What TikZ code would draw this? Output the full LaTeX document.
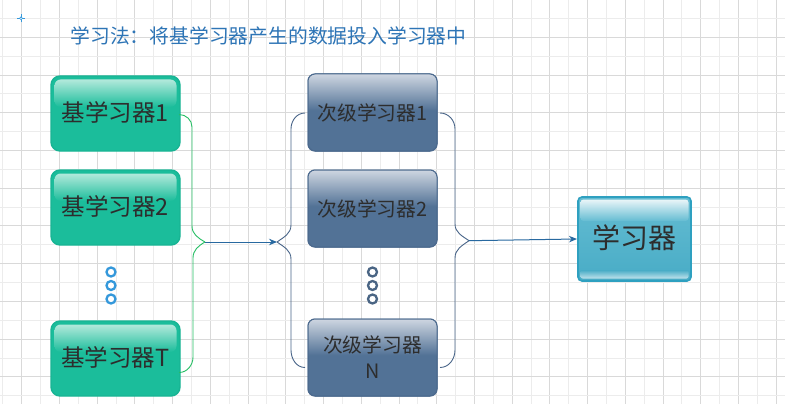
\documentclass[tikz,border=0pt]{standalone}
\usepackage{fontspec}
\setmainfont{Noto Sans CJK SC}
\usetikzlibrary{arrows.meta,calc}
\definecolor{gridminor}{RGB}{236,236,236}
\definecolor{gridmajor}{RGB}{217,217,217}
\definecolor{gbase}{RGB}{27,189,155}
\definecolor{gedge}{RGB}{24,180,148}
\definecolor{glight}{RGB}{178,233,219}
\definecolor{sbase}{RGB}{82,114,150}
\definecolor{sedge}{RGB}{76,106,142}
\definecolor{stop}{RGB}{206,214,225}
\definecolor{lbase}{RGB}{72,172,198}
\definecolor{ltop}{RGB}{100,188,210}
\definecolor{ledge}{RGB}{46,160,192}
\definecolor{txt}{RGB}{45,45,45}
\definecolor{titlec}{RGB}{46,117,182}
\definecolor{greenline}{RGB}{38,190,100}
\definecolor{arrowblue}{RGB}{40,105,160}
\definecolor{bracec}{RGB}{72,100,136}
\definecolor{dotblue}{RGB}{52,152,219}
\definecolor{dotgray}{RGB}{74,101,132}
\tikzset{
  basebox/.style={draw=gedge, line width=1.4pt, fill=gbase, rounded corners=9pt,
    anchor=north west, minimum width=129pt, minimum height=75pt, inner sep=0pt, outer sep=0pt},
  subbox/.style={draw=sedge, line width=1pt, fill=sbase, rounded corners=7pt,
    anchor=north west, minimum width=129pt, minimum height=77pt, inner sep=0pt, outer sep=0pt},
  learnbox/.style={draw=ledge, line width=1.6pt, top color=ltop, bottom color=lbase, rounded corners=4pt,
    anchor=north west, minimum width=113pt, minimum height=84pt, inner sep=0pt, outer sep=0pt},
  btext/.style={text=txt, font=\fontsize{23.5}{24}\selectfont, inner sep=0pt},
  stext/.style={text=txt, font=\fontsize{19.8}{26}\selectfont, inner sep=0pt, align=center},
  ltext/.style={text=txt, font=\fontsize{28}{28}\selectfont, inner sep=0pt},
  dotleft/.style={circle, draw=dotblue, line width=2.3pt, fill=white, minimum size=9pt, inner sep=0pt},
  dotright/.style={circle, draw=dotgray, line width=2.3pt, fill=white, minimum size=9pt, inner sep=0pt},
  gline/.style={draw=greenline, line width=0.9pt},
  bline/.style={draw=bracec, line width=0.9pt},
  arr/.style={draw=arrowblue, line width=1pt, -{Stealth[length=8pt,width=6.5pt]}},
  titlestyle/.style={text=titlec, font=\fontsize{19.8}{20}\selectfont, inner sep=0pt},
}
\newcommand\mkglossg[1]{%
  \shade[top color=glight, bottom color=gbase, rounded corners=6pt]
    ([shift={(3.5,-3.5)}]#1.north west) rectangle ([shift={(-3.5,-31)}]#1.north east);}
\newcommand\mkglosss[1]{%
  \begin{scope}
    \clip[rounded corners=7pt] (#1.north west) rectangle (#1.south east);
    \shade[top color=stop, bottom color=sbase]
      (#1.north west) rectangle ($(#1.north east)!0.47!(#1.south east)$);
  \end{scope}
  \draw[sedge, line width=1pt, rounded corners=7pt] (#1.north west) rectangle (#1.south east);}
\begin{document}
\begin{tikzpicture}[x=1pt,y=1pt]
\useasboundingbox (0,0) rectangle (785,-404);
\fill[white] (0,0) rectangle (785,-404);
% grid
\foreach \i in {0,...,41} {
  \pgfmathsetmacro{\gx}{2.835+18.865*\i}
  \pgfmathparse{int(mod(\i,2))}
  \ifnum\pgfmathresult=1
    \draw[gridmajor, line width=1pt] (\gx,0) -- (\gx,-404);
  \else
    \draw[gridminor, line width=1pt] (\gx,0) -- (\gx,-404);
  \fi
}
\foreach \j in {1,...,21} {
  \pgfmathsetmacro{\gy}{-0.43+18.865*\j}
  \pgfmathparse{int(mod(\j,2))}
  \ifnum\pgfmathresult=0
    \draw[gridmajor, line width=1pt] (0,-\gy) -- (785,-\gy);
  \else
    \draw[gridminor, line width=1pt] (0,-\gy) -- (785,-\gy);
  \fi
}
% crosshair
\coordinate (cross) at (21,-18.3);
\draw[dotblue, line width=0.6pt] ($(cross)+(-4,0)$) -- ($(cross)+(4,0)$)
  ($(cross)+(0,-4)$) -- ($(cross)+(0,4)$);
\draw[dotblue, line width=0.6pt, fill=white] (cross) circle (1.4);
% title
\node[titlestyle] (title) at (268.5,-36) {学习法：将基学习器产生的数据投入学习器中};
% base learners
\node[basebox] (b1) at (51,-76) {};
\node[basebox] (b2) at (51,-170) {};
\node[basebox] (bT) at (51,-321) {};
\mkglossg{b1}\mkglossg{b2}\mkglossg{bT}
\node[btext] (b1t) at ([yshift=1.5pt]b1.center) {基学习器1};
\node[btext] (b2t) at ([yshift=1.5pt]b2.center) {基学习器2};
\node[btext] (bTt) at ([yshift=1.5pt]bT.center) {基学习器T};
\node[dotleft] (dl1) at (111,-272) {};
\node[dotleft] (dl2) at (111,-285.5) {};
\node[dotleft] (dl3) at (111,-299) {};
% secondary learners
\node[subbox] (s1) at (308,-74) {};
\node[subbox] (s2) at (308,-170) {};
\node[subbox] (sN) at (308,-319) {};
\mkglosss{s1}\mkglosss{s2}\mkglosss{sN}
\node[stext] (s1t) at (s1.center) {次级学习器1};
\node[stext] (s2t) at (s2.center) {次级学习器2};
\node[stext] (sNt) at (sN.center) {次级学习器\\N};
\node[dotright] (dr1) at (372.5,-272) {};
\node[dotright] (dr2) at (372.5,-285.5) {};
\node[dotright] (dr3) at (372.5,-299) {};
% learner
\node[learnbox] (L) at (578,-197) {};
\shade[top color=white!88!lbase, bottom color=ltop, rounded corners=3pt]
  ([shift={(2.5,-2.5)}]L.north west) rectangle ([shift={(-2.5,-24)}]L.north east);
\shade[top color=lbase, bottom color=white!65!lbase, rounded corners=2pt]
  ([shift={(2.5,11)}]L.south west) rectangle ([shift={(-2.5,2.5)}]L.south east);
\node[ltext] (Lt) at ([yshift=1pt]L.center) {学习器};
% junctions
\coordinate (j1) at (205,-242);
\coordinate (j2) at (277,-242);
\coordinate (j3) at (469,-240.7);
% green brace
\draw[gline] ([xshift=-1pt,yshift=-1pt]b1.east) to[out=0,in=90] (192,-127) -- (192,-226) to[out=-90,in=150] (j1);
\draw[gline] ([xshift=-1pt,yshift=-14pt]bT.east) to[out=0,in=-90] (193,-357) -- (193,-258) to[out=90,in=210] (j1);
\draw[arr] (j1) -- (j2);
% left blue brace
\draw[bline] (j2) to[out=35,in=-90] (291,-225) -- (291,-129) to[out=90,in=180] ([xshift=-3pt,yshift=-0.5pt]s1.west);
\draw[bline] (j2) to[out=-35,in=90] (291,-259) -- (291,-350) to[out=-90,in=180] ([xshift=-3pt,yshift=-10pt]sN.west);
% right blue brace
\draw[bline] ([xshift=3pt,yshift=-0.5pt]s1.east) to[out=0,in=90] (455,-129) -- (455,-224) to[out=-90,in=145] (j3);
\draw[bline] ([xshift=3pt,yshift=-10pt]sN.east) to[out=0,in=-90] (455,-350) -- (455,-258) to[out=90,in=215] (j3);
\draw[arr] (j3) -- ([xshift=-1pt]L.west);
\end{tikzpicture}
\end{document}
